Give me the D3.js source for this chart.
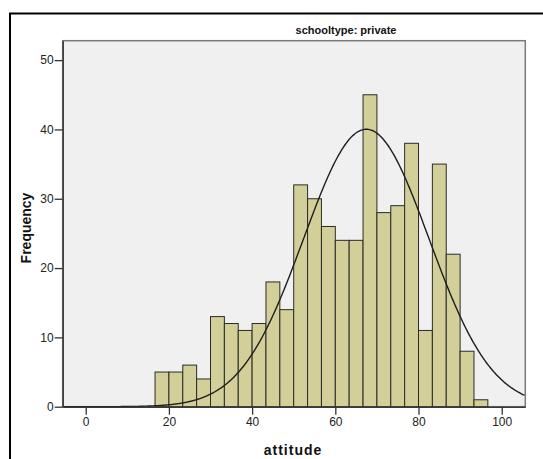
<!DOCTYPE html>
<html>
<head>
<meta charset="utf-8">
<script src="https://cdn.jsdelivr.net/npm/d3@7"></script>
<style>
  html, body { margin: 0; padding: 0; background: #fff; }
  svg { display: block; }
  text { font-family: "Liberation Sans", Arial, sans-serif; }
</style>
</head>
<body>
<svg id="chart" width="543" height="459"></svg>
<script>
// Histogram of attitude scores for private schools, with fitted normal curve
const binStart = 50 / 3;          // lower edge of the first bin
const binWidth = 10 / 3;          // width of each bin
const counts = [5, 5, 6, 4, 13, 12, 11, 12, 18, 14, 32, 30, 26, 24, 24, 45, 28, 29, 38, 11, 35, 22, 8, 1];
const xTicks = [0, 20, 40, 60, 80, 100];
const yTicks = [0, 10, 20, 30, 40, 50];
const curveMean = 67.45;
const curveSD = 15.05;
const panelTitle = "schooltype: private";
const xTitle = "attitude";
const yTitle = "Frequency";

const svg = d3.select("#chart");

// outer frame
svg.append("path")
  .attr("d", "M10,470 L10,13.5 L560,13.5")
  .attr("fill", "none")
  .attr("stroke", "#000")
  .attr("stroke-width", 2);

const plot = { left: 62.7, right: 525.3, top: 40.7, bottom: 406.7 };

const x = d3.scaleLinear().domain([-5.53, 105.67]).range([plot.left, plot.right]);
const y = d3.scaleLinear().domain([0, 52.8]).range([plot.bottom, plot.top]);

// plot background
svg.append("rect")
  .attr("x", plot.left).attr("y", plot.top)
  .attr("width", plot.right - plot.left).attr("height", plot.bottom - plot.top)
  .attr("fill", "#f0f0f0")
  .attr("stroke", "#7a7a7a")
  .attr("stroke-width", 1.5);

// bars
const bins = counts.map((c, i) => ({ x0: binStart + i * binWidth, x1: binStart + (i + 1) * binWidth, n: c }));
svg.append("g").selectAll("rect").data(bins).join("rect")
  .attr("x", d => x(d.x0))
  .attr("y", d => y(d.n))
  .attr("width", d => x(d.x1) - x(d.x0))
  .attr("height", d => y(0) - y(d.n))
  .attr("fill", "#d3cf98")
  .attr("stroke", "#2b2b2b")
  .attr("stroke-width", 1);

// normal curve scaled to counts
const N = d3.sum(counts);
const normal = v => N * binWidth / (curveSD * Math.sqrt(2 * Math.PI)) *
  Math.exp(-0.5 * Math.pow((v - curveMean) / curveSD, 2));
const xs = d3.range(x.domain()[0], x.domain()[1] + 0.001, 0.25);
svg.append("path")
  .datum(xs)
  .attr("d", d3.line().x(v => x(v)).y(v => y(normal(v))).curve(d3.curveBasis))
  .attr("fill", "none")
  .attr("stroke", "#1e1e1e")
  .attr("stroke-width", 1.4);

// axes
const xAxis = svg.append("g")
  .attr("transform", `translate(0,${plot.bottom})`)
  .call(d3.axisBottom(x).tickValues(xTicks).tickSize(8).tickPadding(3).tickSizeOuter(0));
const yAxis = svg.append("g")
  .attr("transform", `translate(${plot.left},0)`)
  .call(d3.axisLeft(y).tickValues(yTicks).tickSize(8).tickPadding(1).tickSizeOuter(0));

[xAxis, yAxis].forEach(g => {
  g.select(".domain").attr("stroke", "#3a3a3a").attr("stroke-width", 1.5);
  g.selectAll(".tick line").attr("stroke", "#333").attr("stroke-width", 1.3);
  g.selectAll(".tick text")
    .attr("fill", "#222")
    .style("font-family", "'Liberation Sans', Arial, sans-serif")
    .style("font-size", "12px");
});

// titles
svg.append("text")
  .attr("x", 346).attr("y", 34)
  .attr("text-anchor", "middle")
  .style("font-size", "11px").style("font-weight", "bold")
  .attr("fill", "#111")
  .text(panelTitle);

svg.append("text")
  .attr("x", 293).attr("y", 455)
  .attr("text-anchor", "middle")
  .style("font-size", "14px").style("font-weight", "bold")
  .style("letter-spacing", "1px")
  .attr("fill", "#111")
  .text(xTitle);

svg.append("text")
  .attr("transform", "translate(31,228) rotate(-90)")
  .attr("text-anchor", "middle")
  .style("font-size", "14px").style("font-weight", "bold")
  .attr("fill", "#111")
  .text(yTitle);
</script>
</body>
</html>
